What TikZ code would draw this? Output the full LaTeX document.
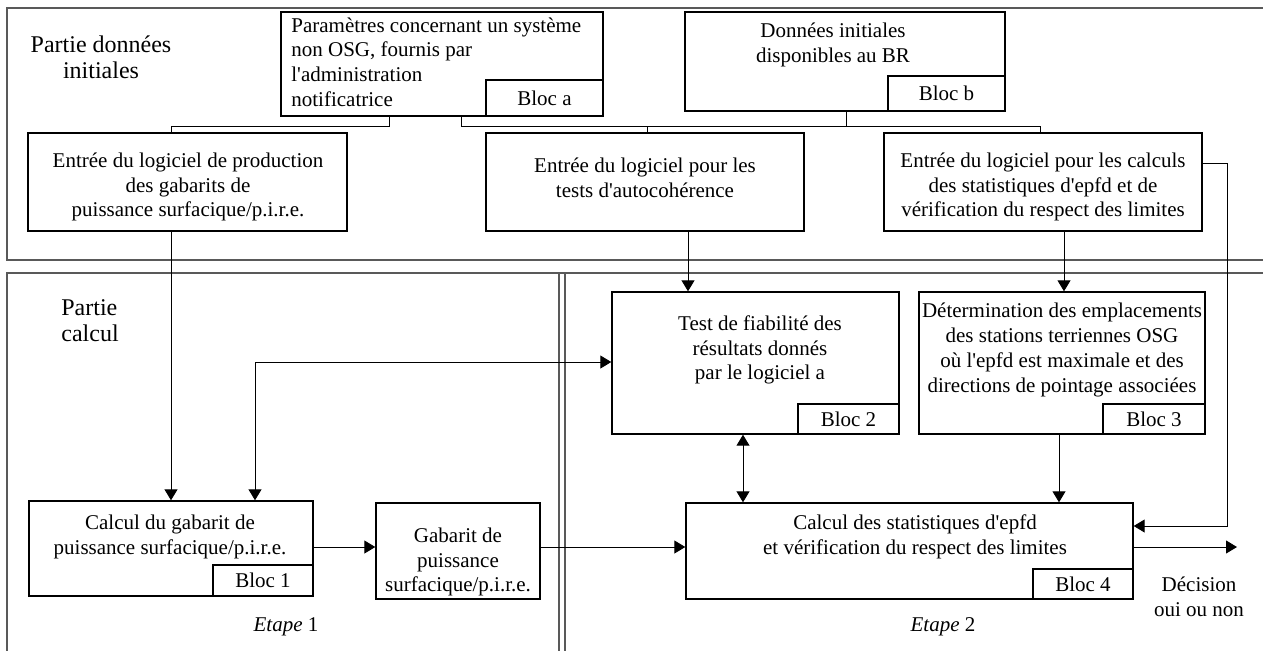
\documentclass[tikz,border=0pt]{standalone}
\usepackage{fontspec}
\setmainfont{Liberation Serif}[Ligatures=TeXOff]
\usetikzlibrary{arrows.meta,fit}
\begin{document}
\begin{tikzpicture}[x=0.5pt,y=-0.5pt,
  box/.style={draw, line width=0.7pt, inner sep=0pt, rectangle},
  txt/.style={inner sep=0pt, align=center, font=\fontsize{10.5}{12.4}\selectfont},
  big/.style={inner sep=0pt, font=\fontsize{12}{13}\selectfont},
  panel/.style={draw=black!65, line width=0.8pt},
  link/.style={line width=0.5pt},
  tip/.tip={Triangle[length=5.5pt,width=6.5pt]},
  arr/.style={link, -tip},
  darr/.style={link, tip-tip}]
\useasboundingbox (0,0) rectangle (1263,650);
\clip (0,0) rectangle (1263,650);

% the two parts of the process
\draw[panel] (1275,8) -- (7,8) -- (7,260) -- (1275,260);
\draw[panel] (1275,273) -- (7,273) -- (7,660);
\draw[panel] (559,273) -- (559,660) (565,273) -- (565,660);

\node[big, align=center] (pdi) at (101,57) {Partie données\\initiales};
\node[big, align=left, anchor=west] (pc) at (61,321) {Partie\\calcul};

% initial data blocks
\node[box, fit={(281,12) (603,116)}] (ba) {};
\node[box, fit={(486,80) (603,116)}] (taba) {};
\node[txt] (la) at (taba.center) {Bloc a};
\node[txt, align=left, anchor=west] (ta) at (291,62)
  {Paramètres concernant un système\\non OSG, fournis par\\l'administration\\notificatrice};

\node[box, fit={(685,12) (1005,111)}] (bb) {};
\node[box, fit={(888,76) (1005,111)}] (tabb) {};
\node[txt] (lb) at (tabb.center) {Bloc b};
\node[txt] (tb) at (833,45) {Données initiales\\disponibles au BR};

% software inputs
\node[box, fit={(28,133) (347,231)}] (bL) {};
\node[txt] (tL) at (188,187) {Entrée du logiciel de production\\des gabarits de\\puissance surfacique/p.i.r.e.};
\node[box, fit={(486,133) (804,231)}] (bM) {};
\node[txt] (tM) at (645,178) {Entrée du logiciel pour les\\tests d'autocohérence};
\node[box, fit={(884,133) (1202,231)}] (bR) {};
\node[txt] (tR) at (1043,187) {Entrée du logiciel pour les calculs\\des statistiques d'epfd et de\\vérification du respect des limites};

% calculation blocks
\node[box, fit={(612,292) (899,434)}] (b2) {};
\node[box, fit={(798,404) (899,434)}] (tab2) {};
\node[txt] (l2) at (tab2.center) {Bloc 2};
\node[txt] (t2) at (760,350) {Test de fiabilité des\\résultats donnés\\par le logiciel a};

\node[box, fit={(919,292) (1205,434)}] (b3) {};
\node[box, fit={(1103,404) (1205,434)}] (tab3) {};
\node[txt] (l3) at (tab3.center) {Bloc 3};
\node[txt] (t3) at (1062,350) {Détermination des emplacements\\des stations terriennes OSG\\où l'epfd est maximale et des\\directions de pointage associées};

\node[box, fit={(29,501) (313,596)}] (b1) {};
\node[box, fit={(213,565) (313,596)}] (tab1) {};
\node[txt] (l1) at (tab1.center) {Bloc 1};
\node[txt] (t1) at (170,537) {Calcul du gabarit de\\puissance surfacique/p.i.r.e.};

\node[box, fit={(376,503) (540,599)}] (bg) {};
\node[txt] (tg) at (458,562) {Gabarit de\\puissance\\surfacique/p.i.r.e.};

\node[box, fit={(686,503) (1133,599)}] (b4) {};
\node[box, fit={(1033,569) (1133,599)}] (tab4) {};
\node[txt] (l4) at (tab4.center) {Bloc 4};
\node[txt] (t4) at (915,537) {Calcul des statistiques d'epfd\\et vérification du respect des limites};

\node[txt] (dec) at (1199,597) {Décision\\oui ou non};
\node[txt] (e1) at (286,627) {\textit{Etape} 1};
\node[txt] (e2) at (943,627) {\textit{Etape} 2};

% distribution of the initial data
\coordinate (ja) at (389,126);
\coordinate (jL) at (171,126);
\coordinate (jb) at (461,126);
\coordinate (jM) at (647,126);
\coordinate (jbb) at (846,126);
\coordinate (jR) at (1040,126);
\draw[link] (ba.south -| ja) -- (ja) -- (jL) -- (bL.north -| jL);
\draw[link] (ba.south -| jb) -- (jb) -- (jR) -- (bR.north -| jR);
\draw[link] (jM) -- (bM.north -| jM);
\draw[link] (bb.south -| jbb) -- (jbb);

% data flow of the calculation
\coordinate (xM) at (688,0);
\coordinate (xR) at (1064,0);
\coordinate (jr1) at (1227,163);
\coordinate (jr2) at (1227,526);
\coordinate (jf) at (255,362);
\coordinate (ym) at (0,547);
\coordinate (x24) at (743,0);
\coordinate (x34) at (1059,0);
\coordinate (out) at (1237,547);

\draw[arr] (bL.south -| jL) -- (b1.north -| jL);
\draw[arr] (bM.south -| xM) -- (b2.north -| xM);
\draw[arr] (bR.south -| xR) -- (b3.north -| xR);
\draw[arr] (bR.east |- jr1) -- (jr1) -- (jr2) -- (b4.east |- jr2);
\draw[darr] (b1.north -| jf) -- (jf) -- (b2.west |- jf);
\draw[arr] (b1.east |- ym) -- (bg.west |- ym);
\draw[arr] (bg.east |- ym) -- (b4.west |- ym);
\draw[darr] (b2.south -| x24) -- (b4.north -| x24);
\draw[arr] (b3.south -| x34) -- (b4.north -| x34);
\draw[arr] (b4.east |- out) -- (out);
\end{tikzpicture}
\end{document}
